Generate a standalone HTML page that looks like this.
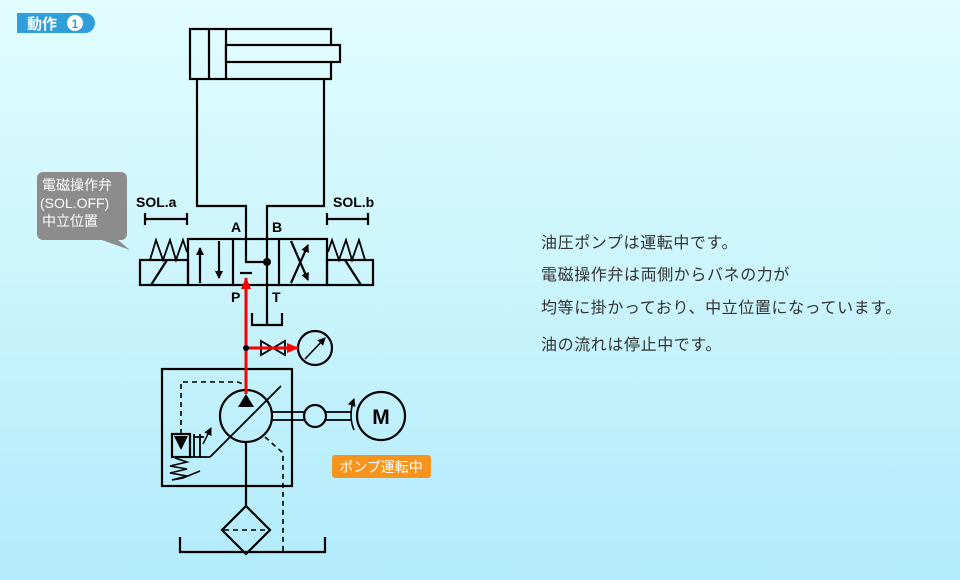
<!DOCTYPE html>
<html><head><meta charset="utf-8"><style>
html,body{margin:0;padding:0}
body{width:960px;height:580px;overflow:hidden;background:linear-gradient(#e2fdfe,#b2ebfb);font-family:"Liberation Sans","Noto Sans CJK JP",sans-serif;position:relative}
.t{position:absolute;left:541px;font-size:16px;letter-spacing:0.6px;color:#333;white-space:nowrap}
</style></head><body>
<svg width="960" height="580" style="position:absolute;left:0;top:0" font-family="Liberation Sans, Noto Sans CJK JP, sans-serif">
<defs><marker id="ar" markerWidth="8" markerHeight="8" refX="7" refY="4" orient="auto" markerUnits="userSpaceOnUse"><path d="M0,0 L8,4 L0,8z" fill="#000"/></marker>
<marker id="rr" markerWidth="12" markerHeight="10" refX="11" refY="5" orient="auto" markerUnits="userSpaceOnUse"><path d="M0,0 L12,5 L0,10z" fill="#f00"/></marker></defs>
<path d="M17,13 H85 a10,10 0 0 1 0,20 H17z" fill="#2f9fdc"/>
<text x="27" y="29" font-size="15" font-weight="bold" fill="#fff">動作</text>
<circle cx="75" cy="23" r="8" fill="#fff"/><text x="75" y="28" font-size="12" font-weight="bold" fill="#2f9fdc" text-anchor="middle">1</text>
<g fill="none" stroke="#000" stroke-width="2.2">
<rect x="190" y="29" width="141" height="50"/>
<line x1="209" y1="29" x2="209" y2="79"/><line x1="226" y1="29" x2="226" y2="79"/>
<rect x="226" y="45" width="114" height="17" fill="#e0fcfe"/>
<path d="M197,79 V206 H246 V262 H267"/>
<path d="M324,79 V206 H267 V325"/>
<rect x="188" y="239" width="139" height="46"/>
<line x1="233" y1="239" x2="233" y2="285"/><line x1="279" y1="239" x2="279" y2="285"/>
<rect x="140" y="260" width="48" height="25"/><rect x="327" y="260" width="46" height="25"/>
<line x1="151" y1="285" x2="167" y2="260"/><line x1="345" y1="260" x2="361" y2="285"/>
<path d="M145,219 H187 M145,213 V225 M187,213 V225" />
<path d="M327,219 H368 M327,213 V225 M368,213 V225"/>
<polyline points="150,260 156,240 163,260 170,240 176,260 183,240 187,252" stroke-width="1.8"/>
<polyline points="328,252 332,240 339,260 346,240 352,260 359,240 365,260" stroke-width="1.8"/>
<line x1="200" y1="283" x2="200" y2="248" marker-end="url(#ar)"/>
<line x1="219" y1="241" x2="219" y2="278" marker-end="url(#ar)"/>
<line x1="291" y1="283" x2="308" y2="245" marker-end="url(#ar)"/>
<line x1="291" y1="241" x2="308" y2="280" marker-end="url(#ar)"/>
<line x1="240" y1="273" x2="252" y2="273"/>
<path d="M252,313 V325 H282 V313"/>
<rect x="162" y="369" width="130" height="117"/>
<circle cx="246" cy="416" r="26"/>
<line x1="210" y1="457" x2="281" y2="386" stroke-width="1.8"/>
<path d="M210,457 H191" stroke-width="1.8"/>
<line x1="246" y1="442" x2="246" y2="506"/>
<rect x="172" y="434" width="18" height="23"/>
<path d="M194,434 V457 M200,434 V457 M194,437 H204" stroke-width="1.8"/>
<line x1="203" y1="444" x2="211" y2="428" marker-end="url(#ar)" stroke-width="1.4"/>
<polyline points="175,458 187,462 170,466 187,469 170,473 187,476 172,480 183,478 200,471" stroke-width="1.5"/>
<path d="M181,434 V382 H238 L245,385" stroke-dasharray="5,4" stroke-width="1.6"/>
<path d="M265,437 L283,453 V552" stroke-dasharray="5,4" stroke-width="1.6"/>
<path d="M272,412 H304 M272,420 H304 M326,412 H352 M326,420 H352" stroke-width="1.8"/>
<circle cx="315" cy="416" r="11"/>
<circle cx="381" cy="416" r="24"/>
<path d="M354,430 Q348,416 354,399" stroke-width="1.6" marker-end="url(#ar)"/>
<path d="M246,506 L270,530 L246,554 L222,530z"/>
<line x1="224" y1="530" x2="268" y2="530" stroke-dasharray="5,4" stroke-width="1.6"/>
<path d="M180,537 V552 H325 V537"/>
<circle cx="315" cy="348" r="17"/>
<line x1="305" y1="359" x2="325" y2="338" marker-end="url(#ar)" stroke-width="1.6"/>
<path d="M261,341 L285,355 V341 L261,355z" stroke-width="1.8"/>
</g>
<path d="M174,436 L188,436 L181,450z" fill="#000"/>
<path d="M238,407 L246,394 L254,407z" fill="#000"/>
<text x="381" y="424" font-size="21" font-weight="bold" text-anchor="middle">M</text>
<line x1="246" y1="394" x2="246" y2="278" stroke="#f00" stroke-width="3" marker-end="url(#rr)"/>
<line x1="246" y1="348" x2="298" y2="348" stroke="#f00" stroke-width="3" marker-end="url(#rr)"/>
<circle cx="246" cy="348" r="3" fill="#000"/>
<circle cx="267" cy="262" r="4" fill="#000"/>
<g font-size="14" font-weight="bold" fill="#000">
<text x="136" y="207">SOL.a</text><text x="333" y="207">SOL.b</text>
<text x="231" y="232">A</text><text x="272" y="232">B</text>
<text x="231" y="302">P</text><text x="272" y="302">T</text>
</g>
<path d="M43,172 H121 a6,6 0 0 1 6,6 V234 a6,6 0 0 1 -6,6 H118 L130,250 L102,240 H43 a6,6 0 0 1 -6,-6 V178 a6,6 0 0 1 6,-6z" fill="#8c8c8c"/>
<g font-size="14" fill="#fff"><text x="42" y="190">電磁操作弁</text><text x="40" y="208">(SOL.OFF)</text><text x="42" y="226">中立位置</text></g>
<rect x="332" y="455" width="99" height="23" rx="3" fill="#f7941d"/>
<text x="381" y="472" font-size="14" fill="#fff" text-anchor="middle">ポンプ運転中</text>
</svg>
<div class="t" style="top:229px">油圧ポンプは運転中です。</div>
<div class="t" style="top:261px">電磁操作弁は両側からバネの力が</div>
<div class="t" style="top:294px">均等に掛かっており、中立位置になっています。</div>
<div class="t" style="top:331px">油の流れは停止中です。</div>
</body></html>
